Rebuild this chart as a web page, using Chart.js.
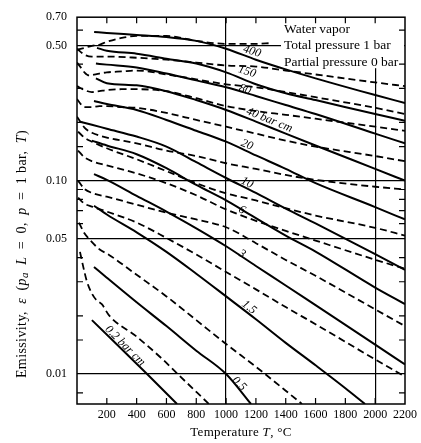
<!DOCTYPE html>
<html><head><meta charset="utf-8">
<script src="https://cdn.jsdelivr.net/npm/chart.js@4/dist/chart.umd.min.js"></script>
<style>html,body{margin:0;padding:0;background:#fff}#wrap{width:421px;height:443px}</style>
</head><body><div id="wrap"><canvas id="c" width="421" height="443"></canvas></div>
<script>
// ---- axis values ----
const xMin = 0, xMax = 2200, xStep = 200;
const xGridValues = [1000, 2000];
const yMin = 0.007, yMax = 0.7;
const yLabelValues = [0.01, 0.05, 0.10, 0.50, 0.70];
const yGridValues = [0.01, 0.05, 0.10, 0.50];
const yMinorValues = [0.008, 0.015, 0.02, 0.03, 0.04, 0.06, 0.07, 0.08, 0.09, 0.15, 0.2, 0.3, 0.4, 0.6];

// ---- curves: temperature (°C) and emissivity ----
const dTopT = [0,50,100,150,200,300,400,600,800,1000,1200,1300];
const dTopE = [0.475,0.486,0.498,0.504,0.522,0.547,0.560,0.560,0.528,0.510,0.510,0.514];
const s400T = [115,200,400,600,800,1000,1200,1400,1600,2000,2200];
const s400E = [0.587,0.580,0.567,0.553,0.528,0.481,0.422,0.376,0.338,0.277,0.252];
const d400T = [0,50,100,200,400,600,800,1000,1200,1400,1600,2000,2200];
const d400E = [0.481,0.448,0.438,0.438,0.432,0.422,0.408,0.394,0.389,0.371,0.354,0.322,0.308];
const s150T = [134,200,400,600,800,1000,1200,1400,1600,2000,2200];
const s150E = [0.486,0.470,0.453,0.427,0.403,0.363,0.315,0.283,0.261,0.221,0.204];
const d150T = [0,25,50,80,150,200,300,400,600,800,1000,1200,1400,1600,2000,2200];
const d150E = [0.408,0.385,0.363,0.350,0.358,0.363,0.367,0.371,0.354,0.334,0.315,0.304,0.287,0.270,0.238,0.221];
const s80T = [127,200,400,600,800,1000,1200,1400,1600,2000,2200];
const s80E = [0.403,0.398,0.385,0.358,0.330,0.304,0.274,0.246,0.221,0.175,0.156];
const d80T = [0,50,100,150,200,300,400,600,800,1000,1200,1400,1600,2000,2200];
const d80E = [0.308,0.294,0.287,0.290,0.294,0.297,0.297,0.290,0.267,0.243,0.229,0.219,0.209,0.190,0.181];
const s40T = [127,200,400,600,800,1000,1200,1400,1600,2000,2200];
const s40E = [0.338,0.319,0.311,0.290,0.261,0.232,0.202,0.175,0.152,0.115,0.100];
const d40T = [0,25,50,100,150,200,300,400,600,800,1000,1200,1400,1600,2000,2200];
const d40E = [0.264,0.249,0.240,0.240,0.243,0.243,0.240,0.238,0.224,0.206,0.190,0.175,0.161,0.150,0.134,0.126];
const s20T = [114,200,400,600,800,1000,1200,1400,1600,2000,2200];
const s20E = [0.258,0.249,0.232,0.206,0.181,0.159,0.135,0.115,0.097,0.073,0.063];
const d20T = [0,50,100,200,400,600,800,1000,1200,1400,1600,2000,2200];
const d20E = [0.214,0.188,0.177,0.167,0.156,0.143,0.134,0.123,0.115,0.107,0.101,0.093,0.090];
const s10T = [20,100,200,400,600,800,1000,1200,1400,1600,2000,2200];
const s10E = [0.2015,0.1945,0.1855,0.169,0.150,0.1245,0.1032,0.0864,0.0717,0.0601,0.0417,0.0346];
const d10T = [7,50,100,200,400,600,800,1000,1200,1400,1600,2000,2200];
const d10E = [0.179,0.167,0.159,0.147,0.129,0.112,0.097,0.086,0.079,0.072,0.066,0.057,0.052];
const s6T = [100,200,400,600,800,1000,1200,1400,1600,2000,2200];
const s6E = [0.161,0.152,0.137,0.116,0.095,0.079,0.064,0.052,0.043,0.028,0.023];
const d6T = [7,50,100,200,400,600,800,1000,1200,1400,1600,2000,2200];
const d6E = [0.143,0.132,0.126,0.120,0.109,0.097,0.084,0.071,0.062,0.055,0.049,0.039,0.035];
const s3T = [114,200,400,600,800,1000,1200,1400,1600,2000,2200];
const s3E = [0.108,0.101,0.0835,0.0692,0.0567,0.0458,0.0362,0.0287,0.0227,0.0142,0.0112];
const d3T = [7,50,100,200,400,600,800,1000,1200,1400,1600,2000,2200];
const d3E = [0.100,0.0906,0.0864,0.0826,0.0751,0.0683,0.063,0.0574,0.0475,0.0389,0.0322,0.0216,0.0177];
const s15T = [114,200,400,600,800,1000,1200,1400,1600,1800,1932];
const s15E = [0.0742,0.0668,0.054,0.0428,0.033,0.0252,0.0192,0.0145,0.0111,0.00845,0.007];
const d15T = [7,50,100,200,400,600,800,1000,1200,1400,1600,2000,2200];
const d15E = [0.0816,0.076,0.0734,0.0692,0.0607,0.0505,0.0415,0.0337,0.0274,0.0222,0.0181,0.0119,0.0097];
const s05T = [114,200,400,600,800,1000,1167];
const s05E = [0.0358,0.0315,0.0235,0.0177,0.0132,0.0100,0.0070];
const d05T = [13,50,80,150,215,400,600,800,1000,1200,1400,1509];
const d05E = [0.0607,0.0534,0.050,0.0442,0.0413,0.0326,0.0252,0.019,0.0143,0.0109,0.0082,0.007];
const s02T = [100,470,671];
const s02E = [0.019,0.010,0.007];
const d02T = [20,50,67,100,127,168,215,396,570,664,885];
const d02E = [0.0428,0.0337,0.030,0.0261,0.0243,0.0229,0.0201,0.0157,0.012,0.0102,0.007];

// ---- curve labels (anchored in data units) ----
const curveLabels = ['400','150','80','40 bar cm','20','10','6','3','1.5','0.5','0.2 bar cm'];
const labelT = [1174,1140,1127,1290,1140,1140,1107,1107,1154,1087,322];
const labelE = [0.466,0.366,0.296,0.206,0.153,0.0975,0.0705,0.0418,0.0221,0.0089,0.0140];
const labelAngle = [17,17,18,22,22,25,30,32,38,45,45];
const legendLines = ['Water vapor','Total pressure 1 bar','Partial pressure 0 bar'];

const curves = [
  [dTopT,dTopE,true],[s400T,s400E,false],[d400T,d400E,true],[s150T,s150E,false],[d150T,d150E,true],
  [s80T,s80E,false],[d80T,d80E,true],[s40T,s40E,false],[d40T,d40E,true],[s20T,s20E,false],[d20T,d20E,true],
  [s10T,s10E,false],[d10T,d10E,true],[s6T,s6E,false],[d6T,d6E,true],[s3T,s3E,false],[d3T,d3E,true],
  [s15T,s15E,false],[d15T,d15E,true],[s05T,s05E,false],[d05T,d05E,true],[s02T,s02E,false],[d02T,d02E,true]
];

const datasets = curves.map(([T,E,dashed]) => ({
  data: T.map((t,i) => ({x:t, y:E[i]})),
  borderColor: '#000',
  borderWidth: dashed ? 1.8 : 2,
  borderDash: dashed ? [7,4] : [],
  pointRadius: 0,
  fill: false,
  cubicInterpolationMode: 'monotone'
}));

const SERIF = '"Liberation Serif", "Times New Roman", serif';
const EN = '\u2002';
function fontFor(style, size){
  if (style === 'i') return 'italic ' + size + 'px ' + SERIF;
  if (style === 's') return 'italic ' + Math.round(size*0.75) + 'px ' + SERIF;
  return size + 'px ' + SERIF;
}
function drawRich(ctx, parts, cx, cy, size, spacing){
  ctx.letterSpacing = (spacing || 0) + 'px';
  let total = 0;
  const widths = parts.map(p => { ctx.font = fontFor(p[1], size); const w = ctx.measureText(p[0]).width; total += w; return w; });
  let x = cx - total/2;
  ctx.textAlign = 'left'; ctx.textBaseline = 'middle';
  parts.forEach((p,i) => { ctx.font = fontFor(p[1], size); ctx.fillText(p[0], x, cy + (p[1]==='s' ? 3 : 0)); x += widths[i]; });
  ctx.letterSpacing = '0px';
}

const decor = {
  id: 'decor',
  beforeDatasetsDraw(chart){
    const {ctx, chartArea:a} = chart;
    ctx.save(); ctx.fillStyle = '#fff';
    ctx.fillRect(a.right - 124, a.top + 1, 123, 50);
    ctx.restore();
  },
  afterDatasetsDraw(chart){
    const {ctx, chartArea:a, scales:{x, y}} = chart;
    ctx.save();
    ctx.strokeStyle = '#000'; ctx.lineWidth = 1.5; ctx.setLineDash([]);
    ctx.strokeRect(a.left, a.top, a.right - a.left, a.bottom - a.top);
    ctx.beginPath(); ctx.lineWidth = 1.2;
    for (let v = xMin + xStep; v < xMax; v += xStep) {
      const px = x.getPixelForValue(v);
      ctx.moveTo(px, a.bottom); ctx.lineTo(px, a.bottom - 6);
      ctx.moveTo(px, a.top); ctx.lineTo(px, a.top + 6);
    }
    yMinorValues.forEach(v => {
      const py = y.getPixelForValue(v);
      ctx.moveTo(a.left, py); ctx.lineTo(a.left + 6, py);
      ctx.moveTo(a.right, py); ctx.lineTo(a.right - 6, py);
    });
    ctx.stroke();
    // legend text
    ctx.fillStyle = '#000';
    ctx.font = '13.5px ' + SERIF; ctx.textAlign = 'left'; ctx.textBaseline = 'middle';
    legendLines.forEach((t,i) => ctx.fillText(t, a.right - 121, a.top + 12 + i*16.5));
    // curve labels
    ctx.font = 'italic 12px ' + SERIF; ctx.textAlign = 'center';
    curveLabels.forEach((t,i) => {
      ctx.save();
      ctx.translate(x.getPixelForValue(labelT[i]), y.getPixelForValue(labelE[i]));
      ctx.rotate(labelAngle[i] * Math.PI / 180);
      ctx.fillText(t, 0, 0);
      ctx.restore();
    });
    // axis titles
    ctx.save();
    ctx.translate(22, 254);
    ctx.rotate(-Math.PI/2);
    drawRich(ctx, [['Emissivity,' + EN,'n'],['ε','i'],[EN + '(','n'],['p','i'],['a','s'],[EN + 'L','i'],[EN + '=' + EN + '0,' + EN,'n'],['p','i'],[EN + '=' + EN + '1 bar,' + EN,'n'],['T','i'],[')','n']], 0, 0, 14, 0.4);
    ctx.restore();
    drawRich(ctx, [['Temperature ','n'],['T','i'],[', °C','n']], (a.left + a.right)/2, 433, 13, 0.3);
    ctx.restore();
  }
};

new Chart(document.getElementById('c'), {
  type: 'line',
  data: { datasets },
  options: {
    responsive: false, animation: false, devicePixelRatio: 1, events: [],
    layout: { padding: { top: 13, right: 15, bottom: 0, left: 0 } },
    plugins: { legend: { display: false }, tooltip: { enabled: false } },
    scales: {
      x: {
        type: 'linear', min: xMin, max: xMax,
        afterFit: s => { s.height = 39; },
        ticks: { stepSize: xStep, padding: 4, color: '#000', font: { family: SERIF, size: 12 },
                 callback: v => v === 0 ? '' : String(v), maxRotation: 0, autoSkip: false },
        grid: { drawTicks: false, lineWidth: 1.2, color: c => xGridValues.includes(c.tick && c.tick.value) ? '#000' : 'rgba(0,0,0,0)' },
        border: { display: false }
      },
      y: {
        type: 'logarithmic', min: yMin, max: yMax,
        afterFit: s => { s.width = 77; },
        afterBuildTicks: s => { s.ticks = yLabelValues.map(v => ({ value: v })); },
        ticks: { padding: 10, color: '#000', font: { family: SERIF, size: 12 }, autoSkip: false,
                 callback: v => yLabelValues.includes(v) ? Number(v).toFixed(2) : '' },
        grid: { drawTicks: false, lineWidth: 1.2, color: c => yGridValues.includes(c.tick && c.tick.value) ? '#000' : 'rgba(0,0,0,0)' },
        border: { display: false }
      }
    }
  },
  plugins: [decor]
});
</script>
</body></html>
